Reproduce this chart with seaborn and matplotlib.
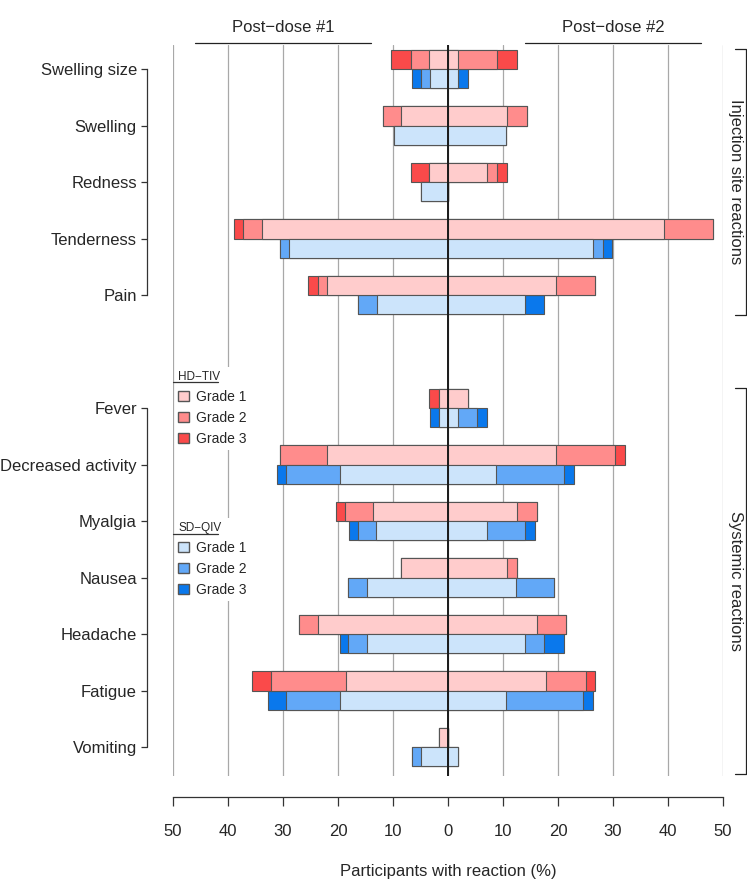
import numpy as np
import pandas as pd
import seaborn as sns
import matplotlib.pyplot as plt
from matplotlib.patches import Patch
from matplotlib.lines import Line2D
from matplotlib.transforms import ScaledTranslation, blended_transform_factory

# categories
injection = ["Swelling size", "Swelling", "Redness", "Tenderness", "Pain"]
systemic = ["Fever", "Decreased activity", "Myalgia", "Nausea", "Headache", "Fatigue", "Vomiting"]
symptoms = injection + systemic

# % of participants per grade (HD-TIV / SD-QIV, post-dose #1 / #2)
hd_d1_g1 = [3.4, 8.5, 3.4, 33.9, 22.0, 1.7, 22.0, 13.6, 8.5, 23.7, 18.6, 1.7]
hd_d1_g2 = [3.4, 3.4, 0.0, 3.4, 1.7, 0.0, 8.5, 5.1, 0.0, 3.4, 13.6, 0.0]
hd_d1_g3 = [3.6, 0.0, 3.4, 1.7, 1.7, 1.7, 0.0, 1.7, 0.0, 0.0, 3.4, 0.0]

hd_d2_g1 = [1.8, 10.7, 7.1, 39.3, 19.6, 3.6, 19.6, 12.5, 10.7, 16.1, 17.9, 0.0]
hd_d2_g2 = [7.1, 3.6, 1.8, 8.9, 7.1, 0.0, 10.7, 3.6, 1.8, 5.4, 7.1, 0.0]
hd_d2_g3 = [3.6, 0.0, 1.8, 0.0, 0.0, 0.0, 1.8, 0.0, 0.0, 0.0, 1.8, 0.0]

sd_d1_g1 = [3.3, 9.8, 4.9, 29.0, 13.0, 1.6, 19.7, 13.1, 14.8, 14.8, 19.7, 4.9]
sd_d1_g2 = [1.6, 0.0, 0.0, 1.6, 3.3, 0.0, 9.8, 3.3, 3.3, 3.3, 9.8, 1.6]
sd_d1_g3 = [1.7, 0.0, 0.0, 0.0, 0.0, 1.6, 1.6, 1.6, 0.0, 1.6, 3.3, 0.0]

sd_d2_g1 = [1.8, 10.5, 0.0, 26.3, 14.0, 1.8, 8.8, 7.0, 12.3, 14.0, 10.5, 1.8]
sd_d2_g2 = [0.0, 0.0, 0.0, 1.8, 0.0, 3.5, 12.3, 7.0, 7.0, 3.5, 14.0, 0.0]
sd_d2_g3 = [1.8, 0.0, 0.0, 1.8, 3.5, 1.8, 1.8, 1.8, 0.0, 3.5, 1.8, 0.0]

reds = ["#FFCCCC", "#FF8C8C", "#FA4A4A"]
blues = ["#CCE4FB", "#62A8F7", "#0A78EC"]

rows = []
for vac, dose, g1, g2, g3 in [("HD-TIV", 1, hd_d1_g1, hd_d1_g2, hd_d1_g3),
                              ("HD-TIV", 2, hd_d2_g1, hd_d2_g2, hd_d2_g3),
                              ("SD-QIV", 1, sd_d1_g1, sd_d1_g2, sd_d1_g3),
                              ("SD-QIV", 2, sd_d2_g1, sd_d2_g2, sd_d2_g3)]:
    for s, a, b, c in zip(symptoms, g1, g2, g3):
        rows.append(dict(symptom=s, vaccine=vac, dose=dose, g1=a, g2=b, g3=c))
df = pd.DataFrame(rows)
sign = np.where(df["dose"] == 1, -1, 1)
df["c1"] = df["g1"] * sign
df["c2"] = (df["g1"] + df["g2"]) * sign
df["c3"] = (df["g1"] + df["g2"] + df["g3"]) * sign

order = injection + [" "] + systemic

sns.set_style("white")
plt.rcParams["font.family"] = ["Liberation Sans", "DejaVu Sans"]

W, H = 747, 880
fig = plt.figure(figsize=(W / 100, H / 100), dpi=100)
ax = fig.add_axes([173 / W, 1 - 776 / H, 550 / W, 731 / H])

# stacked bars drawn as overlapping cumulative layers
for dose in (1, 2):
    sub = df[df["dose"] == dose]
    for col, k in (("c3", 2), ("c2", 1), ("c1", 0)):
        sns.barplot(data=sub, x=col, y="symptom", hue="vaccine", order=order,
                    hue_order=["HD-TIV", "SD-QIV"],
                    palette={"HD-TIV": reds[k], "SD-QIV": blues[k]}, saturation=1,
                    orient="h", width=0.68, errorbar=None, edgecolor="#555555",
                    linewidth=0.8, legend=False, ax=ax, zorder=3)

ax.set_xlim(-50, 50)
ax.set_ylim(12.51, -0.425)

for v in range(-50, 51, 10):
    ax.axvline(v, color="#a8a8a8", lw=0.9, zorder=6 if abs(v) == 50 else 0)
ax.axvline(0, color="#1a1a1a", lw=1.4, zorder=7)

# axes
for s in ("top", "right"):
    ax.spines[s].set_visible(False)
ax.spines["left"].set_position(("outward", 18.7))
ax.spines["left"].set_bounds(0, 4)
ax.spines["bottom"].set_position(("outward", 15))
ax.spines["bottom"].set_bounds(-50, 50)
for s in ("left", "bottom"):
    ax.spines[s].set_color("#333333")
    ax.spines[s].set_linewidth(0.9)

ypos = [order.index(s) for s in symptoms]
ax.set_yticks(ypos, symptoms)
ticks = list(range(-50, 51, 10))
ax.set_xticks(ticks, [str(abs(t)) for t in ticks])
ax.tick_params(axis="y", length=4.3, width=0.9, pad=3, labelsize=12, color="#333333", left=True)
ax.tick_params(axis="x", length=6.5, width=0.9, pad=13, labelsize=12, color="#333333", bottom=True)
ax.set_ylabel("")
ax.set_xlabel("Participants with reaction (%)", fontsize=12, labelpad=18)

# second segment of the left bracket axis
trans = ax.get_yaxis_transform() + ScaledTranslation(-26 / 100, 0, fig.dpi_scale_trans)
ax.plot([0, 0], [ypos[5], ypos[-1]], transform=trans, color="#333333", lw=0.9, clip_on=False)

# dose headers
xt = ax.get_xaxis_transform()
for sgn, txt in ((-1, "Post\u2212dose #1"), (1, "Post\u2212dose #2")):
    ax.text(sgn * 30, 1.0246, txt, transform=xt, ha="center", va="center", fontsize=12)
    ax.plot([sgn * 14, sgn * 46], [1.0027, 1.0027], transform=xt, color="#222222",
            lw=0.9, clip_on=False)

# right brackets
bt = blended_transform_factory(ax.transAxes, ax.transData)
for y0, y1, txt in ((ypos[0] - 0.35, ypos[4] + 0.35, "Injection site reactions"),
                    (ypos[5] - 0.35, ypos[-1] + 0.48, "Systemic reactions")):
    ax.plot([1.0218, 1.0418, 1.0418, 1.0218], [y0, y0, y1, y1], transform=bt,
            color="#222222", lw=0.9, clip_on=False)
    ax.text(1.0227, (y0 + y1) / 2, txt, transform=bt, rotation=270, ha="center",
            va="center", fontsize=12)

# legends
def make_legend(title, colors, top_px):
    handles = [Patch(facecolor=c, edgecolor="#555555", label=f"Grade {i + 1}")
               for i, c in enumerate(colors)]
    leg = ax.legend(handles=handles, title=title, loc="upper left",
                    bbox_to_anchor=(174 / W, 1 - top_px / H), bbox_transform=fig.transFigure,
                    fontsize=10, title_fontsize=8.5, frameon=True, facecolor="white",
                    edgecolor="none", framealpha=1, fancybox=False, handlelength=0.75,
                    handleheight=0.75, handletextpad=0.5, labelspacing=0.5,
                    borderpad=0.3, borderaxespad=0, alignment="left")
    leg.set_zorder(5)
    ax.add_artist(leg)
    return leg

make_legend("HD\u2212TIV", reds, 367)
make_legend("SD\u2212QIV", blues, 518)
for y in (382, 534):
    fig.add_artist(Line2D([173 / W, 218 / W], [1 - y / H] * 2, transform=fig.transFigure,
                          color="#333333", lw=0.9))

fig.savefig("out.png", dpi=100)
